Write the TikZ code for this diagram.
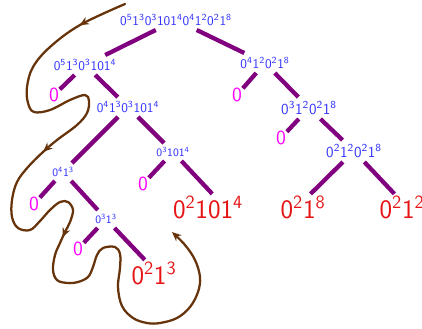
\documentclass[tikz,border=0pt]{standalone}
\usepackage{tikz}
\usepackage{xcolor}
\usetikzlibrary{arrows.meta}
\usetikzlibrary{decorations.markings}
\renewcommand{\familydefault}{\sfdefault}
\newcommand{\pw}[1]{\textsuperscript{#1}}
\definecolor{wordblue}{RGB}{51,51,255}
\definecolor{zeropink}{RGB}{255,0,255}
\definecolor{leafred}{RGB}{230,20,20}
\definecolor{branchpurple}{RGB}{128,0,128}
\definecolor{walkbrown}{RGB}{102,51,10}

\begin{document}
\begin{tikzpicture}[x=0.75pt,y=0.75pt,yscale=-1,xscale=1,
  word/.style={text=wordblue,font=\fontsize{10}{12}\selectfont,inner sep=3pt},
  big word/.style={word,font=\fontsize{11.5}{13}\selectfont},
  small word/.style={word,font=\fontsize{8.5}{10}\selectfont},
  zero/.style={text=zeropink,font=\fontsize{15}{18}\selectfont,inner sep=0.5pt},
  leaf/.style={text=leafred,font=\fontsize{20}{24}\selectfont,inner sep=1pt},
  branch/.style={draw=branchpurple,line width=3.2pt}]
\useasboundingbox (0,0) rectangle (422,329);

% Text Node
\draw (176,20) node (root) [word] {0\pw{5}1\pw{3}0\pw{3}101\pw{4}0\pw{4}1\pw{2}0\pw{2}1\pw{8}};
% Text Node
\draw (85,65) node (l) [word] {0\pw{5}1\pw{3}0\pw{3}101\pw{4}};
% Text Node
\draw (265,63) node (r) [word] {0\pw{4}1\pw{2}0\pw{2}1\pw{8}};
% Text Node
\draw (54,95) node (la) [zero] {0};
% Text Node
\draw (128,107) node (lr) [word] {0\pw{4}1\pw{3}0\pw{3}101\pw{4}};
% Text Node
\draw (237,95) node (ra) [zero] {0};
% Text Node
\draw (309,108) node (rr) [big word] {0\pw{3}1\pw{2}0\pw{2}1\pw{8}};
% Text Node
\draw (63,172) node (lrl) [small word] {0\pw{4}1\pw{3}};
% Text Node
\draw (173,152) node (lrr) [small word] {0\pw{3}101\pw{4}};
% Text Node
\draw (281,138) node (rra) [zero] {0};
% Text Node
\draw (354,151) node (rrr) [big word] {0\pw{2}1\pw{2}0\pw{2}1\pw{8}};
% Text Node
\draw (143,184) node (lrra) [zero] {0};
% Text Node
\draw (208,207) node (lrrb) [leaf] {0\pw{2}101\pw{4}};
% Text Node
\draw (303,207) node (rrra) [leaf] {0\pw{2}1\pw{8}};
% Text Node
\draw (402,207) node (rrrb) [leaf] {0\pw{2}1\pw{2}};
% Text Node
\draw (34,204) node (lrla) [zero] {0};
% Text Node
\draw (106,219) node (lrlr) [small word] {0\pw{3}1\pw{3}};
% Text Node
\draw (78,249) node (lrlra) [zero] {0};
% Text Node
\draw (154,273) node (lrlrb) [leaf] {0\pw{2}1\pw{3}};

% Branches
\draw [branch] (root) -- (l);
\draw [branch] (root) -- (r);
\draw [branch] (l) -- (la);
\draw [branch] (l) -- (lr);
\draw [branch] (r) -- (ra);
\draw [branch] (r) -- (rr);
\draw [branch] (lr) -- (lrl);
\draw [branch] (lr) -- (lrr);
\draw [branch] (rr) -- (rra);
\draw [branch] (rr) -- (rrr);
\draw [branch] (lrr) -- (lrra);
\draw [branch] (lrr) -- (lrrb.72);
\draw [branch] (rrr) -- (rrra.60);
\draw [branch] (rrr) -- (rrrb.120);
\draw [branch] (lrl) -- (lrla);
\draw [branch] (lrl) -- (lrlr);
\draw [branch] (lrlr) -- (lrlra);
\draw [branch] (lrlr) -- (lrlrb.125);

%Curve Lines: the walk round the tree
\coordinate (walkstart) at (125,4);
\coordinate (walkend) at (172,232);
\draw [walkbrown, line width=1.7pt, line cap=round,
  -{Stealth[length=7pt,width=6pt]},
  postaction={decorate},
  decoration={markings,
    mark=at position 0.06 with {\arrow{Stealth[length=7pt,width=6pt]}},
    mark=at position 0.353 with {\arrow{Stealth[length=7pt,width=6pt]}},
    mark=at position 0.58 with {\arrow{Stealth[length=7pt,width=6pt]}}}]
  plot [smooth, tension=0.6] coordinates {(walkstart) (80,25) (50,47) (33,67) (27,87) (28,103) (34,112) (50,110) (70,100) (85,95) (89,101) (87,113) (77,125) (57,140) (43,152) (28,167) (17,182) (12,200) (12,217) (18,228) (30,230) (40,221) (50,210) (60,202) (68,202) (73,210) (70,222) (65,232) (60,243) (55,255) (53,270) (57,280) (67,283) (78,282) (88,277) (93,267) (97,255) (103,248) (115,247) (120,254) (120,268) (118,287) (122,306) (133,318) (147,323) (160,323) (177,318) (190,307) (198,292) (200,277) (195,260) (185,245) (walkend)};

\end{tikzpicture}
\end{document}
